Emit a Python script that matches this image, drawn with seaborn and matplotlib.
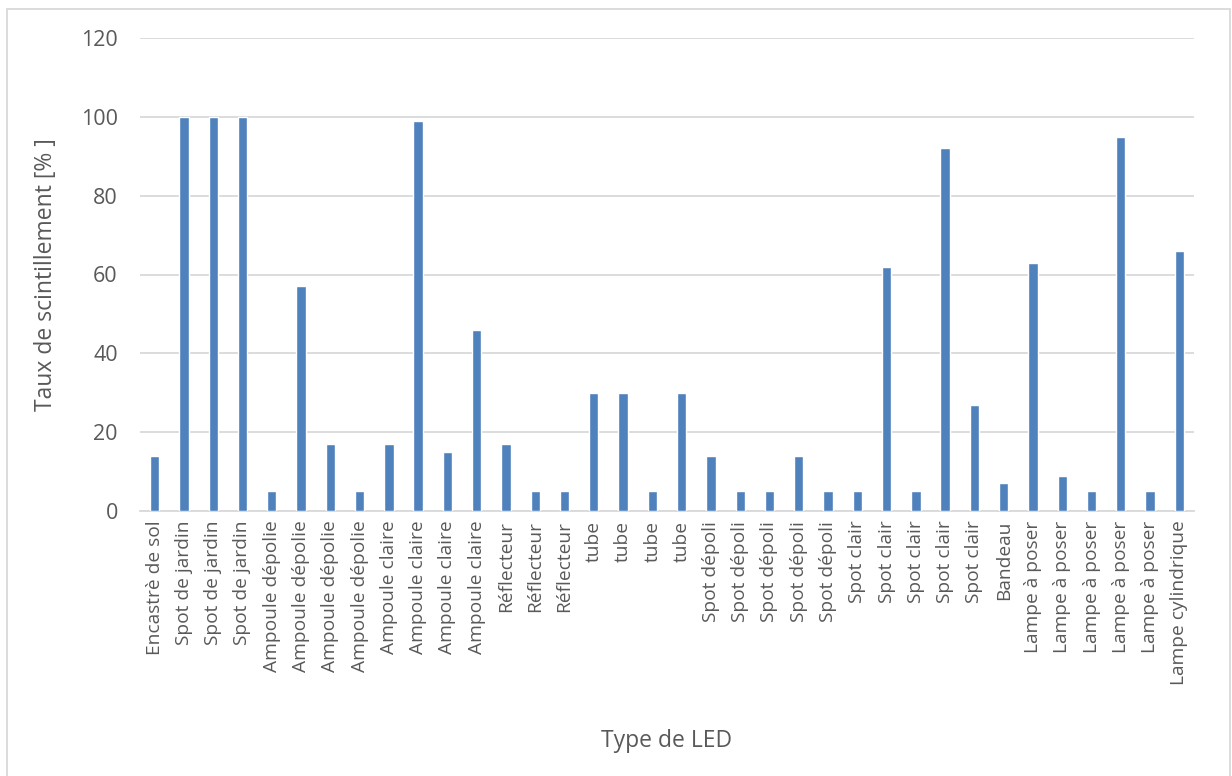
import matplotlib
matplotlib.use("Agg")
import matplotlib.pyplot as plt
import seaborn as sns
import pandas as pd
from matplotlib.patches import Rectangle

LED_TYPES = ["Encastrè de sol", "Spot de jardin", "Spot de jardin", "Spot de jardin",
             "Ampoule dépolie", "Ampoule dépolie", "Ampoule dépolie", "Ampoule dépolie",
             "Ampoule claire", "Ampoule claire", "Ampoule claire", "Ampoule claire",
             "Réflecteur", "Réflecteur", "Réflecteur",
             "tube", "tube", "tube", "tube",
             "Spot dépoli", "Spot dépoli", "Spot dépoli", "Spot dépoli", "Spot dépoli",
             "Spot clair", "Spot clair", "Spot clair", "Spot clair", "Spot clair",
             "Bandeau",
             "Lampe à poser", "Lampe à poser", "Lampe à poser", "Lampe à poser", "Lampe à poser",
             "Lampe cylindrique"]
FLICKER = [14, 100, 100, 100,
           5, 57, 17, 5,
           17, 99, 15, 46,
           17, 5, 5,
           30, 30, 5, 30,
           14, 5, 5, 14, 5,
           5, 62, 5, 92, 27,
           7,
           63, 9, 5, 95, 5,
           66]
Y_TICKS = [0, 20, 40, 60, 80, 100, 120]

BLUE = "#4F81BD"
GREY_TEXT = "#595959"
GRID = "#D9D9D9"


def main():
    sns.set_style("white")
    plt.rcParams["font.family"] = ["Open Sans", "DejaVu Sans"]

    df = pd.DataFrame({"idx": range(len(FLICKER)), "val": FLICKER})

    fig = plt.figure(figsize=(12.32, 7.76), dpi=100)
    ax = fig.add_axes([140 / 1232, 1 - 511 / 776, (1194 - 140) / 1232, (511 - 38) / 776])

    sns.barplot(data=df, x="idx", y="val", color=BLUE, width=0.32,
                saturation=1, ax=ax, zorder=3)

    ax.set_ylim(0, 120)
    ax.set_yticks(Y_TICKS)
    ax.set_xlim(-0.5, len(FLICKER) - 0.5)
    ax.set_xticks(range(len(LED_TYPES)))
    ax.set_xticklabels(LED_TYPES, rotation=90, fontsize=13.8, color=GREY_TEXT)
    ax.tick_params(axis="y", labelsize=15.5, labelcolor=GREY_TEXT, length=0, pad=16)
    ax.tick_params(axis="x", length=0, pad=7)

    ax.yaxis.grid(True, color=GRID, linewidth=1.3, zorder=0)
    for side in ["top", "right", "left"]:
        ax.spines[side].set_visible(False)
    ax.spines["bottom"].set_color(GRID)
    ax.spines["bottom"].set_linewidth(1.3)

    ax.set_xlabel("Type de LED", fontsize=16.5, color=GREY_TEXT)
    ax.set_ylabel("Taux de scintillement [% ]", fontsize=16.5, color=GREY_TEXT)
    ax.xaxis.set_label_coords(0.5, -0.46)
    ax.yaxis.set_label_coords(-0.078, 0.5)

    # outer chart border
    fig.patches.append(Rectangle((7 / 1232, -2 / 776), 1223 / 1232, 769 / 776,
                                 transform=fig.transFigure, fill=False,
                                 edgecolor=GRID, linewidth=1.3))

    fig.savefig("out.png", dpi=100, facecolor="white")


if __name__ == "__main__":
    main()
